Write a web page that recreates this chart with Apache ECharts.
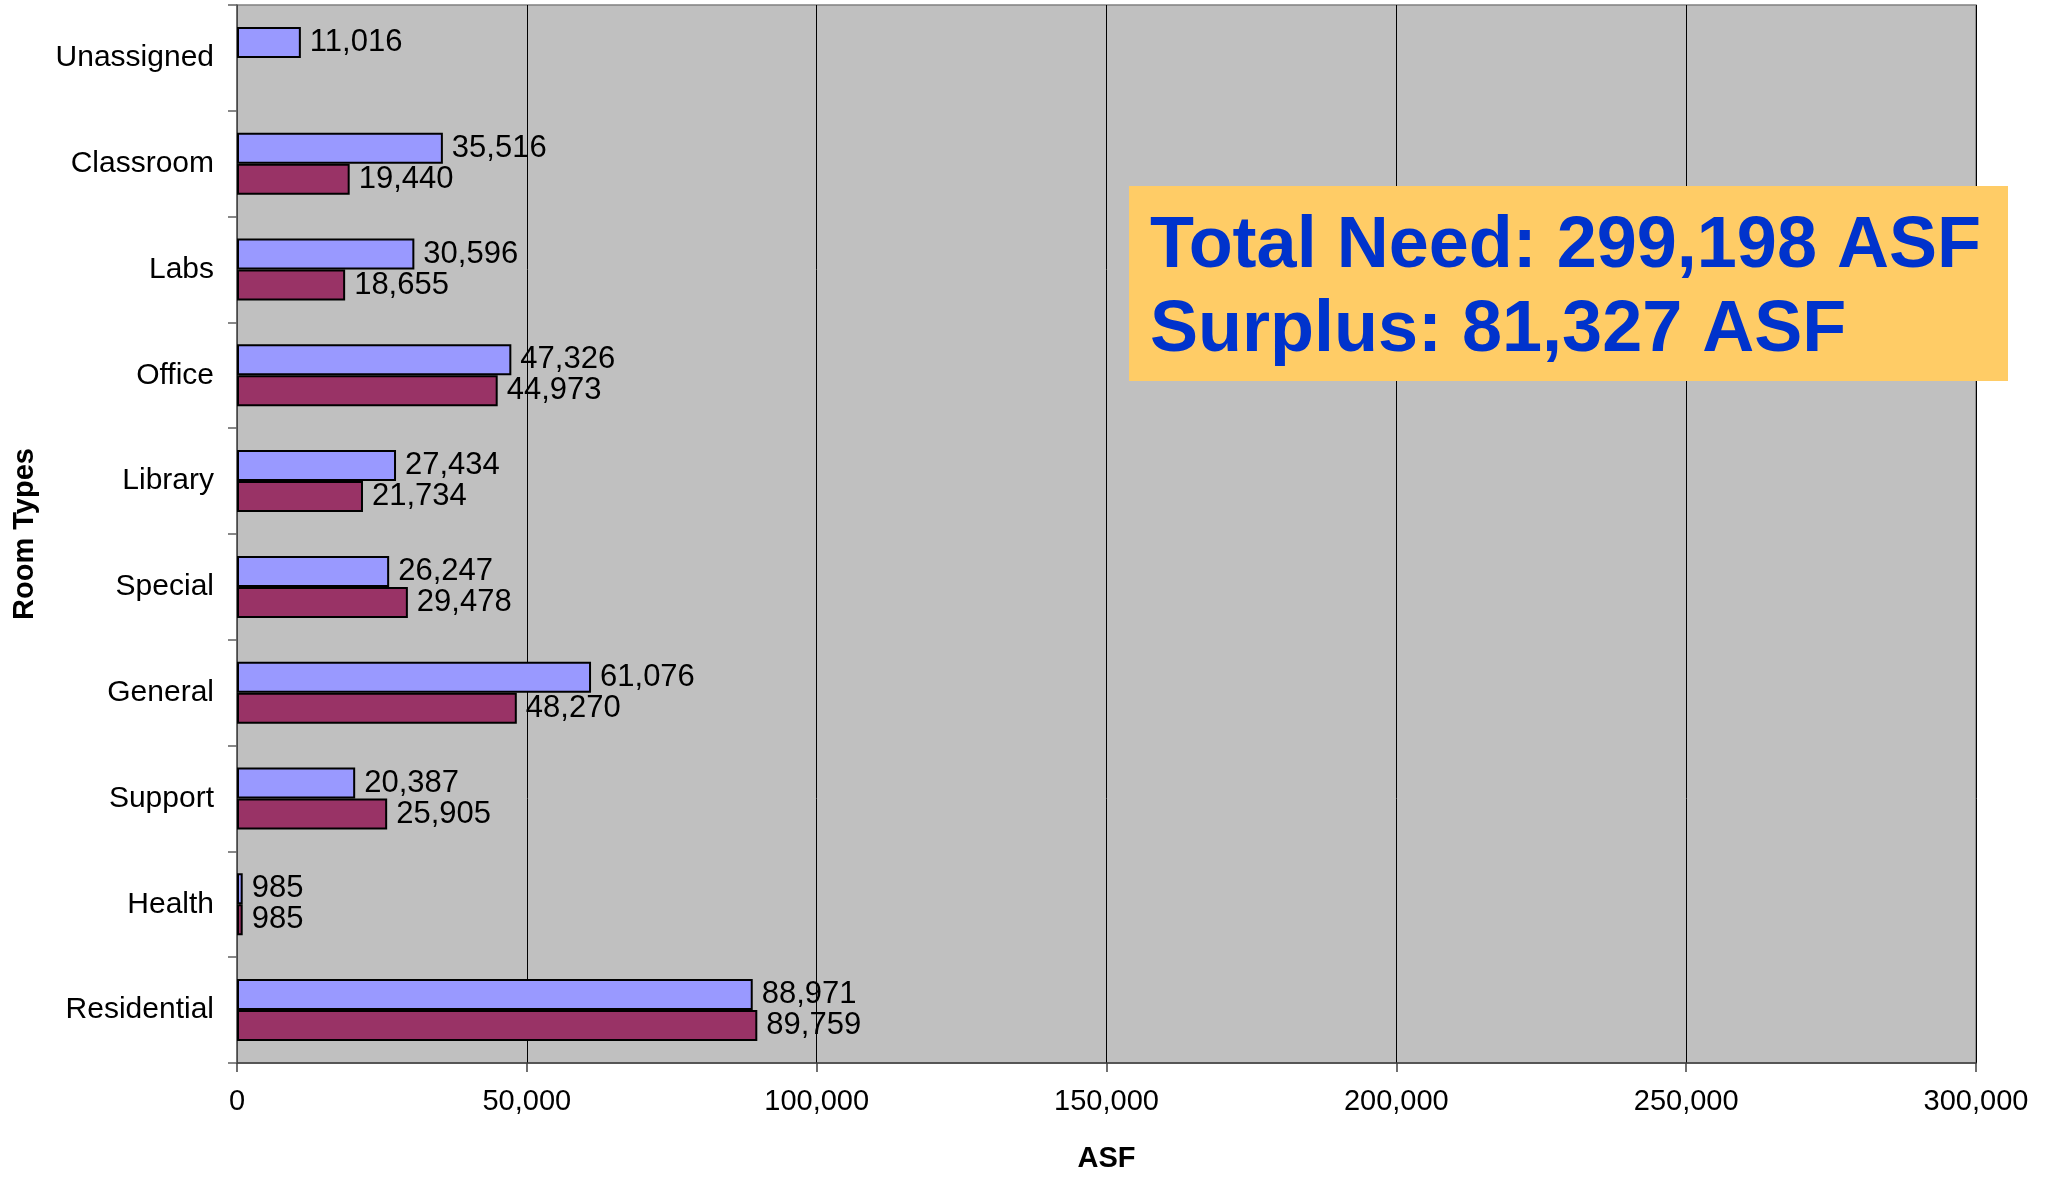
<!DOCTYPE html>
<html>
<head>
<meta charset="utf-8">
<script src="https://cdn.jsdelivr.net/npm/echarts@6/dist/echarts.min.js"></script>
<style>
html,body{margin:0;padding:0;background:#fff;}
#chart{width:2045px;height:1178px;}
</style>
</head>
<body>
<div id="chart"></div>
<script>
var categories = ['Unassigned','Classroom','Labs','Office','Library','Special','General','Support','Health','Residential'];
var seriesA = [11016, 35516, 30596, 47326, 27434, 26247, 61076, 20387, 985, 88971];
var seriesB = [null, 19440, 18655, 44973, 21734, 29478, 48270, 25905, 985, 89759];
var xTicks = [0, 50000, 100000, 150000, 200000, 250000, 300000];
var noteLines = ['Total Need: 299,198 ASF', 'Surplus: 81,327 ASF'];

var FONT = '"Liberation Sans", Arial, sans-serif';
function commas(v){ return echarts.format.addCommas(v); }

var chart = echarts.init(document.getElementById('chart'), null, {renderer:'canvas'});
var labelStyle = {
  show: true, position: 'right', distance: 9,
  fontFamily: FONT, fontSize: 31, color: '#000',
  formatter: function(p){ return commas(p.value); }
};
chart.setOption({
  animation: false,
  grid: {
    left: 237, right: 69, top: 5, bottom: 108,
    show: true, backgroundColor: '#C0C0C0', borderColor: '#808080', borderWidth: 1.5
  },
  xAxis: {
    type: 'value', min: xTicks[0], max: xTicks[xTicks.length-1], interval: 50000,
    name: 'ASF', nameLocation: 'middle', nameGap: 81,
    nameTextStyle: {fontFamily: FONT, fontSize: 29, fontWeight: 'bold', color: '#000'},
    axisLine: {show: true, lineStyle: {color: '#404040', width: 1.5}},
    axisTick: {show: true, length: 9, lineStyle: {color: '#404040', width: 1.5}},
    axisLabel: {fontFamily: FONT, fontSize: 29, color: '#000', margin: 24,
      formatter: function(v){ return commas(v); }},
    splitLine: {show: true, lineStyle: {color: '#000', width: 1}}
  },
  yAxis: {
    type: 'category', data: categories, inverse: true,
    name: 'Room Types', nameLocation: 'middle', nameGap: 198, nameRotate: 90,
    nameTextStyle: {fontFamily: FONT, fontSize: 29, fontWeight: 'bold', color: '#000'},
    axisLine: {show: true, lineStyle: {color: '#606060', width: 1.5}},
    axisTick: {show: true, length: 9, alignWithLabel: false, lineStyle: {color: '#606060', width: 1.5}},
    axisLabel: {fontFamily: FONT, fontSize: 30, color: '#000', margin: 23},
    splitLine: {show: false}
  },
  series: [
    {
      type: 'bar', data: seriesA, barWidth: 31, barGap: '0%',
      itemStyle: {color: '#9999FF', borderColor: '#000', borderWidth: 2},
      label: labelStyle
    },
    {
      type: 'bar', data: seriesB, barWidth: 31, barGap: '0%',
      itemStyle: {color: '#993366', borderColor: '#000', borderWidth: 2},
      label: labelStyle
    }
  ],
  graphic: [
    {type: 'rect', left: 1129, top: 186, shape: {width: 879, height: 195},
     style: {fill: '#FFCC66'}, z: 10},
    {type: 'text', left: 1150, top: 211, z: 11,
     style: {text: noteLines[0], font: 'bold 72px ' + FONT, fill: '#0033CC'}},
    {type: 'text', left: 1150, top: 295, z: 11,
     style: {text: noteLines[1], font: 'bold 72px ' + FONT, fill: '#0033CC'}}
  ]
});
</script>
</body>
</html>
